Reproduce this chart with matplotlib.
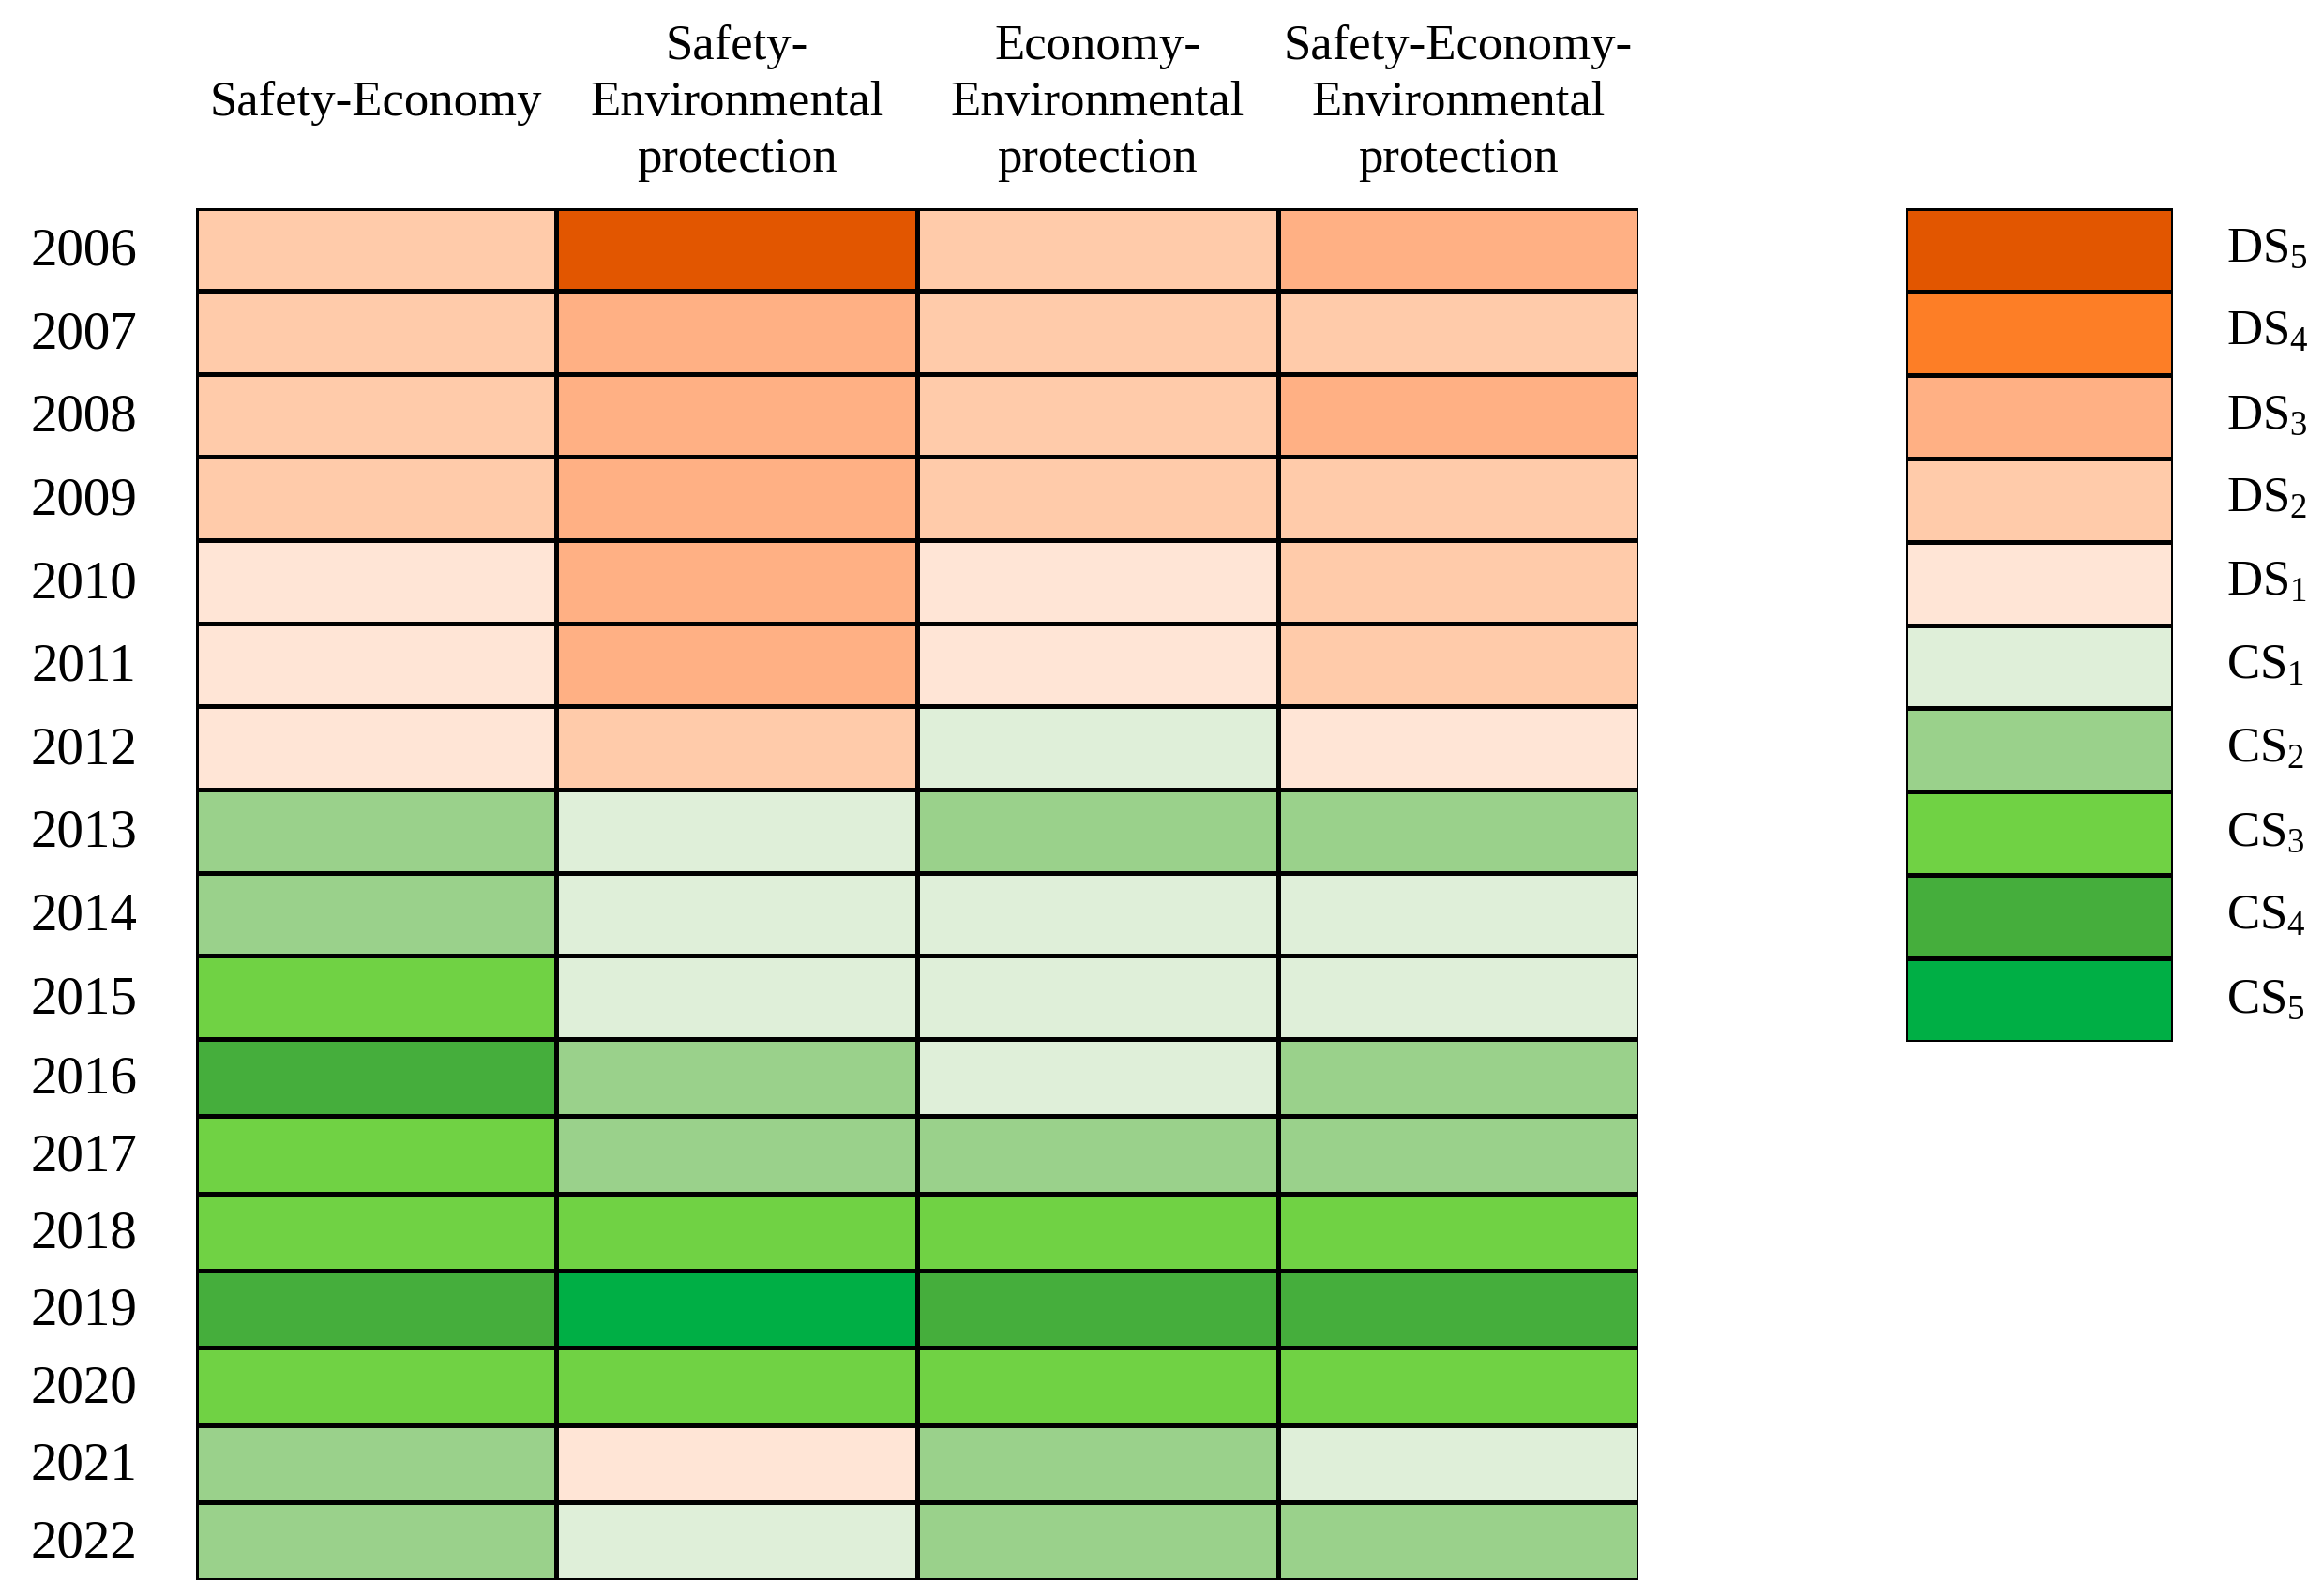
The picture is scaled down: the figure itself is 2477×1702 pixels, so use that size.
import numpy as np
import matplotlib
matplotlib.use("Agg")
import matplotlib.pyplot as plt
from matplotlib.colors import ListedColormap, BoundaryNorm

plt.rcParams['font.family'] = ['Liberation Serif', 'DejaVu Serif']
plt.rcParams['mathtext.fontset'] = 'custom'
plt.rcParams['mathtext.rm'] = 'Liberation Serif'
plt.rcParams['mathtext.it'] = 'Liberation Serif:italic'

# data: state levels, DS5..DS1 -> -5..-1, CS1..CS5 -> 1..5
years = list(range(2006, 2023))
columns = ["Safety-Economy", "Safety-\nEnvironmental\nprotection",
           "Economy-\nEnvironmental\nprotection", "Safety-Economy-\nEnvironmental\nprotection"]
safety_economy = [-2, -2, -2, -2, -1, -1, -1, 2, 2, 3, 4, 3, 3, 4, 3, 2, 2]
safety_env = [-5, -3, -3, -3, -3, -3, -2, 1, 1, 1, 2, 2, 3, 5, 3, -1, 1]
economy_env = [-2, -2, -2, -2, -1, -1, 1, 2, 1, 1, 1, 2, 3, 4, 3, 2, 2]
safety_economy_env = [-3, -2, -3, -2, -2, -2, -1, 2, 1, 1, 2, 2, 3, 4, 3, 1, 2]

legend_levels = [-5, -4, -3, -2, -1, 1, 2, 3, 4, 5]
legend_labels = ["DS$_5$", "DS$_4$", "DS$_3$", "DS$_2$", "DS$_1$",
                 "CS$_1$", "CS$_2$", "CS$_3$", "CS$_4$", "CS$_5$"]
level_colors = ["#E25600", "#FD7E26", "#FFB084", "#FFCBAA", "#FFE5D6",
                "#DFEFD9", "#9AD18B", "#70D244", "#45AE3C", "#00AF45"]

cmap = ListedColormap(level_colors)
norm = BoundaryNorm([-5.5, -4.5, -3.5, -2.5, -1.5, 0, 1.5, 2.5, 3.5, 4.5, 5.5], cmap.N)

grid = np.array([safety_economy, safety_env, economy_env, safety_economy_env]).T

fig = plt.figure(figsize=(24.77, 17.02), dpi=100)

# main table (later rows are a bit shorter in the original)
heights = np.where(np.array(years) <= 2015, 1.0, 0.93)
y_edges = np.concatenate([[0], np.cumsum(heights)])
x_edges = np.arange(len(columns) + 1)

ax = fig.add_axes([0.0843, 0.0102, 0.6211, 0.8596])
ax.pcolormesh(x_edges, y_edges, grid, cmap=cmap, norm=norm,
              edgecolors='black', linewidth=2.2)
ax.set_xlim(0, len(columns))
ax.set_ylim(y_edges[-1], 0)
ax.axis('off')

y_mid = (y_edges[:-1] + y_edges[1:]) / 2
for yr, ym in zip(years, y_mid):
    ax.text(-0.31, ym + 0.03, str(yr), ha='center', va='center', fontsize=41)

for i, col in enumerate(columns):
    ax.text(i + 0.5, -1.26, col, ha='center', va='center', fontsize=38,
            linespacing=1.33)

# legend column
lax = fig.add_axes([0.8204, 0.3470, 0.1151, 0.5228])
ly = np.arange(len(legend_levels) + 1)
lax.pcolormesh([0, 1], ly, np.array(legend_levels).reshape(-1, 1), cmap=cmap, norm=norm,
               edgecolors='black', linewidth=2.2)
lax.set_xlim(0, 1)
lax.set_ylim(len(legend_levels), 0)
lax.axis('off')
for k, lab in enumerate(legend_labels):
    lax.text(1.2, k + 0.5, lab, ha='left', va='center', fontsize=38)

fig.savefig("out.png", dpi=100)
